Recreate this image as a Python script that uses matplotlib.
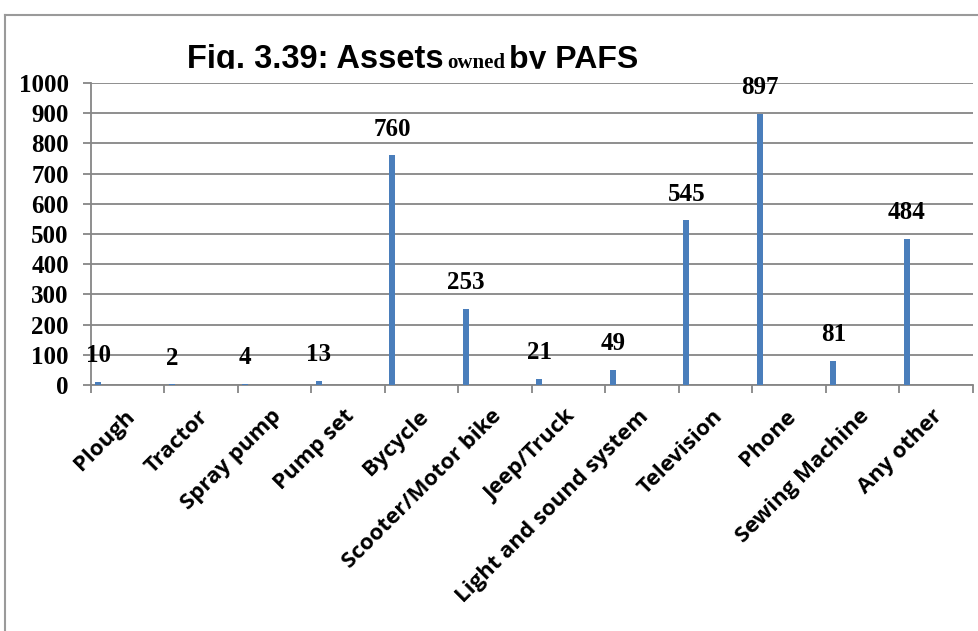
import numpy as np
import matplotlib
matplotlib.use("Agg")
import matplotlib.pyplot as plt
from matplotlib.lines import Line2D
from matplotlib.patches import Rectangle
from matplotlib.transforms import ScaledTranslation

# data
assets = ["Plough", "Tractor", "Spray pump", "Pump set", "Bycycle",
          "Scooter/Motor bike", "Jeep/Truck", "Light and sound system",
          "Television", "Phone", "Sewing Machine", "Any other"]
counts = [10, 2, 4, 13, 760, 253, 21, 49, 545, 897, 81, 484]
yticks = list(range(0, 1001, 100))

W, H = 979, 631
fig = plt.figure(figsize=(W / 100, H / 100), dpi=100)

def fx(x):
    return x / W

def fy(y):
    return 1 - y / H

# plot area
ax = fig.add_axes([fx(91), fy(385), fx(973) - fx(91), fy(83) - fy(385)])
grey = "#868686"

x = np.arange(len(assets))
bx = x - 0.5 + 0.1
ax.bar(bx, counts, width=0.085, color="#4A7EBB", zorder=3)

serif = ["Liberation Serif", "DejaVu Serif"]
for xi, v in zip(bx, counts):
    ax.annotate(str(v), (xi, v), xytext=(0, 19), textcoords="offset points",
                ha="center", va="center", fontsize=18, fontweight="bold",
                family=serif)

ax.set_xlim(-0.5, len(assets) - 0.5)
ax.set_ylim(0, 1000)
ax.set_yticks(yticks)
ax.set_yticklabels([str(t) for t in yticks], fontsize=18, fontweight="bold",
                   family=serif)
ax.yaxis.grid(True, color=grey, lw=1.3, zorder=0)
ax.set_axisbelow(True)

# category labels at slot centres, ticks at slot edges
ax.set_xticks(x)
ax.set_xticklabels(assets, rotation=45, ha="right", va="top",
                   rotation_mode="anchor", fontsize=16, fontweight="bold",
                   family=["Open Sans", "DejaVu Sans"])
ax.tick_params(axis="x", length=0, pad=15)
shift = ScaledTranslation(-4 / 100, 0, fig.dpi_scale_trans)
for lab in ax.get_xticklabels():
    lab.set_transform(lab.get_transform() + shift)
ax.set_xticks(np.arange(-0.5, len(assets)), minor=True)
ax.tick_params(axis="x", which="minor", length=6, width=1.3, color=grey)
ax.tick_params(axis="y", length=6, width=1.3, color=grey, pad=10)

for s in ["top", "right"]:
    ax.spines[s].set_visible(False)
for s in ["left", "bottom"]:
    ax.spines[s].set_color(grey)
    ax.spines[s].set_linewidth(1.3)

# outer chart border (top and left only visible)
fig.add_artist(Line2D([fx(5), 1], [fy(15), fy(15)], color="#9a9a9a", lw=1.5))
fig.add_artist(Line2D([fx(5), fx(5)], [0, fy(15)], color="#9a9a9a", lw=1.5))

# title in mixed fonts
sans = ["Liberation Sans", "DejaVu Sans"]
fig.text(fx(187), fy(68), "Fig. 3.39: Assets", fontsize=23.5,
         fontweight="bold", family=sans, va="baseline")
fig.text(fx(447), fy(68), "owned", fontsize=15, fontweight="bold",
         family=serif, va="baseline")
fig.text(fx(509), fy(68), "by PAFS", fontsize=23, fontweight="bold",
         family=sans, va="baseline")

# the plot area clips the bottom of the title
fig.add_artist(Rectangle((fx(150), fy(75)), fx(600), fy(69) - fy(75),
                         transform=fig.transFigure, color="white", zorder=5))

fig.savefig("out.png", dpi=100)
